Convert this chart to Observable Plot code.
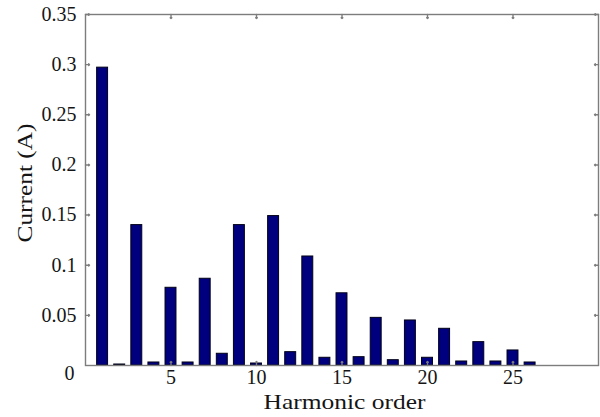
<!DOCTYPE html>
<html>
<head>
<meta charset="utf-8">
<script src="https://cdn.jsdelivr.net/npm/d3@7"></script>
<script src="https://cdn.jsdelivr.net/npm/@observablehq/plot@0.6"></script>
<style>
  html, body { margin: 0; padding: 0; background: #fff; }
  #chart svg { display: block; }
  #chart svg, #chart svg text, #chart svg g { font-family: "Liberation Serif", "Times New Roman", Tinos, "Nimbus Roman", serif !important; }
  #chart svg g[aria-label$="tick label"], #chart svg g[aria-label$="tick label"] text { font-size: 20px !important; }
  #chart svg g[aria-label="text"], #chart svg g[aria-label="text"] text { font-size: 21px !important; }
</style>
</head>
<body>
<div id="chart"></div>
<script>
const harmonicOrder = [1, 2, 3, 4, 5, 6, 7, 8, 9, 10, 11, 12, 13, 14, 15, 16, 17, 18, 19, 20, 21, 22, 23, 24, 25, 26];
const currentA = [0.297, 0.001, 0.140, 0.003, 0.0775, 0.003, 0.0865, 0.0117, 0.140, 0.002, 0.149, 0.0133,
                  0.1087, 0.0077, 0.072, 0.0083, 0.0475, 0.0053, 0.0449, 0.0077, 0.0366, 0.004, 0.0233, 0.004, 0.015, 0.003];
const xTicks = [5, 10, 15, 20, 25];
const yTicks = [0.05, 0.1, 0.15, 0.2, 0.25, 0.3, 0.35];
const yZeroTick = [0];
const xLabel = "Harmonic order";
const yLabel = "Current (A)";

const data = harmonicOrder.map((h, i) => ({h, v: currentA[i]}));
const halfWidth = 0.32;
const gridGrey = "#7d7d7d";
const textColor = "#151515";

const chart = Plot.plot({
  width: 600,
  height: 417,
  marginTop: 14,
  marginBottom: 52,
  marginLeft: 85,
  marginRight: 2,
  style: {fontFamily: "'Liberation Serif', 'Times New Roman', serif", fontSize: "20px", background: "#fff", color: textColor},
  x: {domain: [0, 30], label: null},
  y: {domain: [0, 0.35], label: null},
  marks: [
    Plot.rectY(data, {x1: d => d.h - halfWidth, x2: d => d.h + halfWidth, y1: 0, y2: "v", fill: "#00007e", stroke: "#000018", strokeWidth: 1}),
    Plot.frame({stroke: gridGrey, strokeWidth: 1.4}),
    // inward tick marks (matlab style)
    Plot.vector(xTicks, {x: d => d, y: 0, length: 4, rotate: 0, anchor: "start", stroke: gridGrey, strokeWidth: 1.4}),
    Plot.vector(xTicks, {x: d => d, y: 0.35, length: 4, rotate: 180, anchor: "start", stroke: gridGrey, strokeWidth: 1.4}),
    Plot.vector(yTicks, {x: 0, y: d => d, length: 4, rotate: 90, anchor: "start", stroke: gridGrey, strokeWidth: 1.4}),
    Plot.vector(yTicks, {x: 30, y: d => d, length: 4, rotate: -90, anchor: "start", stroke: gridGrey, strokeWidth: 1.4}),
    Plot.axisX({ticks: xTicks, tickSize: 0, tickPadding: 4, label: null, fontSize: 20, fill: textColor}),
    Plot.axisY({ticks: yTicks, tickSize: 0, tickPadding: 9, label: null, fontSize: 20, fill: textColor, tickFormat: d => String(d)}),
    Plot.axisY({ticks: yZeroTick, tickSize: 0, tickPadding: 11, dy: 8.5, label: null, fontSize: 20, fill: textColor, tickFormat: d => String(d)}),
    Plot.text([xLabel], {text: d => d, frameAnchor: "bottom", textAnchor: "middle", lineAnchor: "middle", dx: 2.5, dy: 36.3, fontSize: 21, fill: textColor}),
    Plot.text([yLabel], {text: d => d, frameAnchor: "left", textAnchor: "middle", lineAnchor: "middle", rotate: -90, dx: -60.7, dy: -7, fontSize: 21, fill: textColor})
  ]
});

// stretch the axis titles horizontally (the reference image is widened)
chart.querySelectorAll("text").forEach(t => {
  if (t.textContent === xLabel) { t.setAttribute("textLength", 162); t.setAttribute("lengthAdjust", "spacingAndGlyphs"); }
  if (t.textContent === yLabel) { t.setAttribute("textLength", 119); t.setAttribute("lengthAdjust", "spacingAndGlyphs"); }
});

document.getElementById("chart").appendChild(chart);
</script>
</body>
</html>
